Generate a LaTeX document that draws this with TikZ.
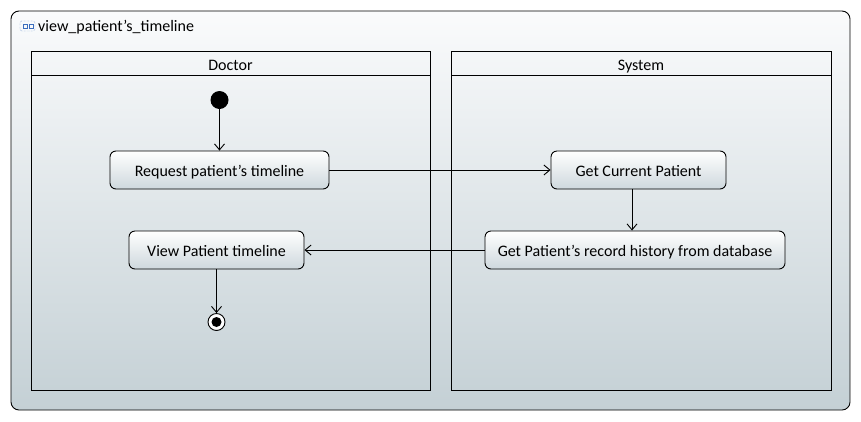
\documentclass[tikz,border=0pt]{standalone}
\usepackage{fontspec}
\setmainfont{Carlito}
\usepackage{xcolor}
\usetikzlibrary{arrows.meta}

\definecolor{frametop}{RGB}{250,251,252}
\definecolor{framebot}{RGB}{196,208,213}
\definecolor{actbot}{RGB}{206,216,221}
\definecolor{iconblue}{RGB}{60,110,190}

\begin{document}
\begin{tikzpicture}[x=1pt,y=-1pt,
  action/.style={draw,line width=0.9pt,rounded corners=6pt,top color=white,bottom color=actbot,
    minimum height=38pt,inner sep=0pt,text height=14pt,text depth=2pt,font=\fontsize{16}{18}\selectfont},
  flow/.style={line width=0.9pt,-{Straight Barb[length=6pt,width=10pt]}},
  lane/.style={line width=1pt},
  title/.style={font=\fontsize{16}{18}\selectfont,inner sep=0pt}]
\useasboundingbox (0,0) rectangle (861,421);

% frame
\draw[line width=0.9pt,rounded corners=8pt,top color=frametop,bottom color=framebot] (11,11) rectangle (850,410);
\draw[iconblue,densely dotted,rounded corners=2pt] (20,21) rectangle (35,31);
\draw[iconblue] (23,24) rectangle (27,28);
\draw[iconblue] (29,24) rectangle (33,28);
\node[title,anchor=base west] (name) at (38,31.5) {view\_patient's\_timeline};

% partitions
\draw[lane] (31,51) rectangle (430,390);
\draw[lane] (31,75) -- (430,75);
\node[title,anchor=base] (doctor) at (230.5,70) {Doctor};
\draw[lane] (451,51) rectangle (831,390);
\draw[lane] (451,75) -- (831,75);
\node[title,anchor=base] (system) at (641,70) {System};

% nodes
\node[circle,fill=black,minimum size=18pt,inner sep=0pt] (start) at (219.5,100) {};
\node[action,minimum width=219pt] (request) at (219.5,170) {Request patient's timeline};
\node[action,minimum width=175pt] (current) at (638.5,170) {Get Current Patient};
\node[action,minimum width=300pt] (history) at (635,250) {Get Patient's record history from database};
\node[action,minimum width=175pt] (view) at (216.5,250) {View Patient timeline};
\node[circle,draw,fill=white,line width=0.9pt,minimum size=17pt,inner sep=0pt] (stop) at (216.5,322) {};
\fill (stop) circle (5pt);

% flows
\draw[flow] (start) -- (request);
\draw[flow] (request) -- (current);
\draw[flow] ([xshift=-6.5pt]current.south) -- ([xshift=-3pt]history.north);
\draw[flow] (history) -- (view);
\draw[flow] (view) -- (stop);
\end{tikzpicture}
\end{document}
